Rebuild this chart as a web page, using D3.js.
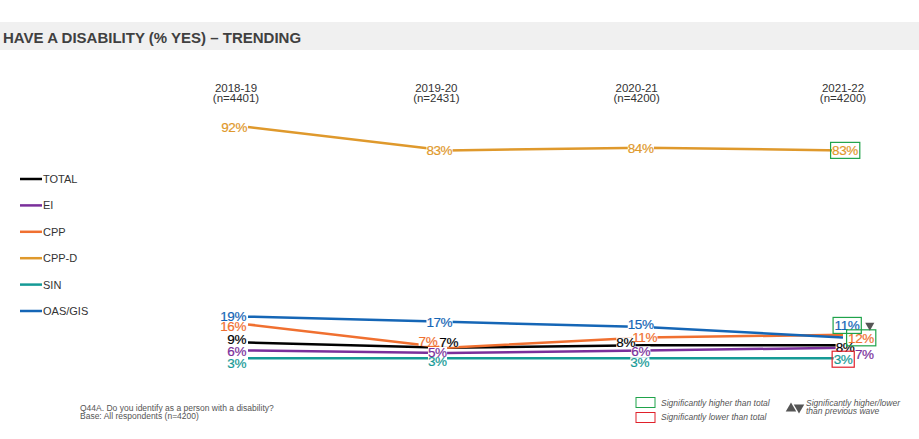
<!DOCTYPE html>
<html><head><meta charset="utf-8">
<script src="https://cdn.jsdelivr.net/npm/d3@7"></script>
<style>body{margin:0;background:#fff}svg{display:block}</style>
</head><body><svg id="c" width="919" height="439"></svg>
<script>
const years = ["2018-19","2019-20","2020-21","2021-22"];
const sampleSizes = ["(n=4401)","(n=2431)","(n=4200)","(n=4200)"];
const seriesNames = ["TOTAL","EI","CPP","CPP-D","SIN","OAS/GIS"];
const totalVals = [9,7,8,8];
const eiVals = [6,5,6,7];
const cppVals = [16,7,11,12];
const cppdVals = [92,83,84,83];
const sinVals = [3,3,3,3];
const oasVals = [19,17,15,11];
// significance vs total at each wave: 1 higher, -1 lower, 0 none
const sigTotal = {"CPP-D":[0,0,0,1],"CPP":[0,0,0,1],"OAS/GIS":[0,0,0,1],"SIN":[0,0,0,-1]};
// change vs previous wave
const sigWave = {"OAS/GIS":[null,null,null,"down"]};

const colors = {"TOTAL":"#000000","EI":"#7a2f9b","CPP":"#f07030","CPP-D":"#df992c","SIN":"#159a96","OAS/GIS":"#1566b6"};
const values = {"TOTAL":totalVals,"EI":eiVals,"CPP":cppVals,"CPP-D":cppdVals,"SIN":sinVals,"OAS/GIS":oasVals};
// label layout: [dx, dy, anchor] per point
const labelLayout = {
  "TOTAL":[[-2,-3,"end"],[-7,-6,"start"],[-19,-3,"middle"],[2,2,"middle"]],
  "EI":[[-2,1,"end"],[-9,-1,"middle"],[-4,1,"middle"],[12,6,"start"]],
  "CPP":[[-2,2,"end"],[-9,-7,"end"],[0,0,"middle"],[18,3,"middle"]],
  "CPP-D":[[-1,0,"end"],[-7,0,"middle"],[-4,0,"middle"],[2,0,"middle"]],
  "SIN":[[-2,5,"end"],[-9,3,"middle"],[-5,4,"middle"],[0,1,"middle"]],
  "OAS/GIS":[[-2,-1,"end"],[-7,0,"middle"],[-4,-3,"middle"],[4,-12,"middle"]]
};
const yearLabelDx = [-12,-10,-8,0];

const svg = d3.select("#c");
const font = "'Liberation Sans Narrow','Arial Narrow',Arial,sans-serif";
const sans = "Arial,'Liberation Sans',Helvetica,sans-serif";

// title band
svg.append("rect").attr("x",0).attr("y",22).attr("width",919).attr("height",28).attr("fill","#f0f0f0");
svg.append("text").attr("x",3).attr("y",43).text("HAVE A DISABILITY (% YES) – TRENDING")
  .attr("font-family",sans).attr("font-weight","bold").attr("font-size",15).attr("fill","#404040");

const x = d3.scalePoint().domain(years).range([248,843]);
const y = d3.scaleLinear().domain([0,92]).range([366,127]);

// year labels
years.forEach((yr,i)=>{
  const t = svg.append("text").attr("text-anchor","middle").attr("font-family",font).attr("font-size",11.5).attr("fill","#333");
  t.append("tspan").attr("x",x(yr)+yearLabelDx[i]).attr("y",92).text(yr);
  t.append("tspan").attr("x",x(yr)+yearLabelDx[i]).attr("y",102).text(sampleSizes[i]);
});

// legend
const lg = d3.scaleLinear().domain([0,5]).range([179,311]);
seriesNames.forEach((s,i)=>{
  svg.append("line").attr("x1",20).attr("x2",42).attr("y1",lg(i)).attr("y2",lg(i)).attr("stroke",colors[s]).attr("stroke-width",2.5);
  svg.append("text").attr("x",43).attr("y",lg(i)+4).text(s).attr("font-family",sans).attr("font-size",11).attr("fill","#333");
});

const gLines = svg.append("g"), gBg = svg.append("g"), gLab = svg.append("g"), gBox = svg.append("g");
const line = d3.line().x((d,i)=>x(years[i])).y(d=>y(d));
const drawOrder = ["CPP-D","SIN","EI","TOTAL","CPP","OAS/GIS"];
drawOrder.forEach(s=>{
  gLines.append("path").datum(values[s]).attr("d",line).attr("fill","none").attr("stroke",colors[s]).attr("stroke-width",2.5);
});
const tri = d3.symbol().type(d3.symbolTriangle).size(36);

// labels
drawOrder.forEach(s=>{
  values[s].forEach((v,i)=>{
    const L = labelLayout[s][i];
    const px = x(years[i])+L[0], py = y(v)+L[1];
    const t = gLab.append("text").attr("x",px).attr("y",py).attr("dy","0.36em").attr("text-anchor",L[2])
      .attr("font-family",font).attr("font-size",13.5).attr("letter-spacing",-0.4)
      .attr("fill",colors[s]).attr("stroke",colors[s]).attr("stroke-width",0.2).text(v+"%");
    const bb = t.node().getBBox();
    gBg.append("rect").attr("x",bb.x).attr("y",py-5).attr("width",bb.width).attr("height",10).attr("fill","#fff");
    const sig = sigTotal[s] ? sigTotal[s][i] : 0;
    if(sig){
      gBox.append("rect").attr("x",bb.x-1.5).attr("y",py-8).attr("width",bb.width+3).attr("height",16)
        .attr("fill","none").attr("stroke",sig>0?"#1fa34a":"#e0202a").attr("stroke-width",1.2);
    }
    const w = sigWave[s] ? sigWave[s][i] : null;
    if(w){
      gBox.append("path").attr("d",tri).attr("transform",`translate(${bb.x+bb.width+10},${py}) rotate(${w==="down"?180:0})`).attr("fill","#555");
    }
  });
});

// footnote
const fn = svg.append("text").attr("font-family",sans).attr("font-size",8.5).attr("fill","#555");
fn.append("tspan").attr("x",80).attr("y",411).text("Q44A. Do you identify as a person with a disability?");
fn.append("tspan").attr("x",80).attr("y",419).text("Base: All respondents (n=4200)");

// bottom legend
svg.append("rect").attr("x",636).attr("y",397.5).attr("width",19).attr("height",10).attr("fill","none").attr("stroke","#1fa34a").attr("stroke-width",1);
svg.append("text").attr("x",661).attr("y",406).text("Significantly higher than total").attr("font-family",sans).attr("font-style","italic").attr("font-size",8.5).attr("fill","#555");
svg.append("rect").attr("x",636).attr("y",412.5).attr("width",19).attr("height",10).attr("fill","none").attr("stroke","#e0202a").attr("stroke-width",1);
svg.append("text").attr("x",661).attr("y",420).text("Significantly lower than total").attr("font-family",sans).attr("font-style","italic").attr("font-size",8.5).attr("fill","#555");
const triL = d3.symbol().type(d3.symbolTriangle).size(48);
svg.append("path").attr("d",triL).attr("transform","translate(791,408.5)").attr("fill","#555");
svg.append("path").attr("d",triL).attr("transform","translate(799,407.5) rotate(180)").attr("fill","#555");
const sw = svg.append("text").attr("font-family",sans).attr("font-style","italic").attr("font-size",8.5).attr("fill","#555");
sw.append("tspan").attr("x",806).attr("y",406).text("Significantly higher/lower");
sw.append("tspan").attr("x",806).attr("y",414).text("than previous wave");
</script></body></html>
